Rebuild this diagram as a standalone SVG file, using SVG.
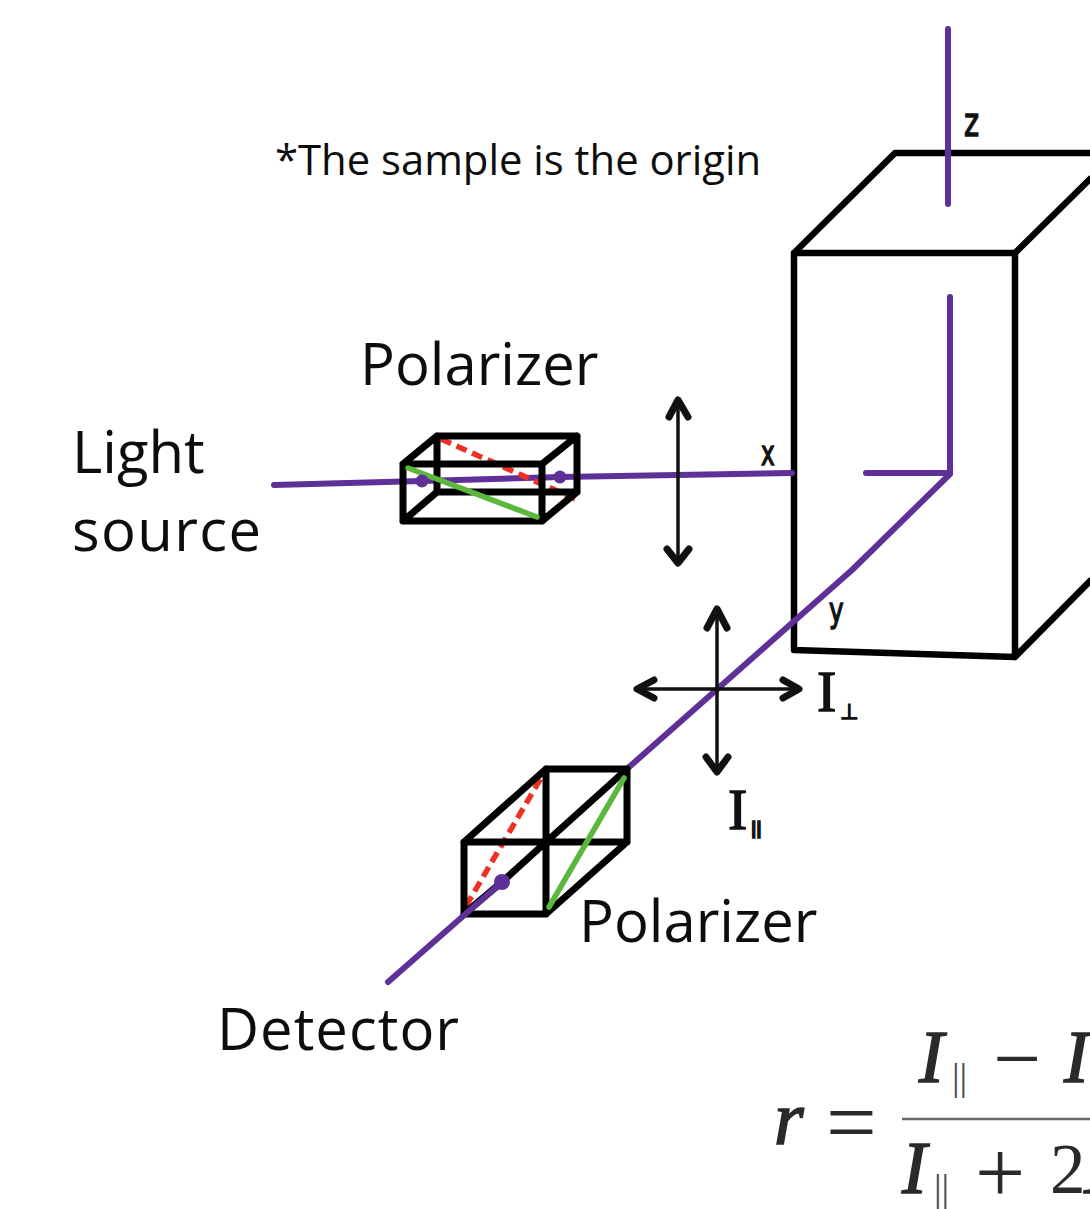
<svg xmlns="http://www.w3.org/2000/svg" width="1090" height="1209" viewBox="0 0 1090 1209">
<style>
.lbl{font-family:"Open Sans","Noto Sans",sans-serif;fill:#0d0d0d}
.big{font-size:58px}
.hand{font-family:"DejaVu Sans",sans-serif;fill:#111;stroke:#111;stroke-width:1.400}
.handi{font-family:"Liberation Serif",serif;fill:#111;stroke:#111;stroke-width:1.400}
.eq{font-family:"Liberation Serif",serif;fill:#262626}
.bi{font-style:italic;font-size:74px;stroke:#262626;stroke-width:1.600}
.sub{font-size:38px;fill:#444}
.k{fill:none;stroke:#000;stroke-width:6.500;stroke-linecap:round;stroke-linejoin:round}
.b{fill:none;stroke:#000;stroke-width:7;stroke-linecap:round;stroke-linejoin:round}
.thin{fill:none;stroke:#111;stroke-width:3.500}
.hd{fill:none;stroke:#111;stroke-width:7;stroke-linecap:round;stroke-linejoin:round}
.p{fill:none;stroke:#5f3198;stroke-width:6;stroke-linecap:round;stroke-linejoin:round}
.g{fill:none;stroke:#5cb83c;stroke-width:5.500;stroke-linecap:round}
.r{fill:none;stroke:#ee3124;stroke-width:5.500;stroke-dasharray:11 6}
.dot{fill:#5f3198}
</style>
<g id="sample-box">
<path class="k" d="M794 253L895 153H1090M794 253H1015L1090 179M794 253V650L1015 657V253M1015 657L1090 581"/>
</g>
<g id="connectors">
<path class="p" d="M274 485L422 481L560 477L792 473"/>
<path class="p" d="M866 473H950V297"/>
<path class="p" d="M948 29V204"/>
<path class="p" d="M950 474L852 570L628 768"/>
<path class="thin" d="M678 402V562"/>
<path class="hd" d="M669 417L678 400L688 417M667 549L678 563L689 549"/>
<path class="thin" d="M717 610V772M637 689H798"/>
<path class="hd" d="M707 628L717 609L727 628M706 757L717 772L728 757M654 680L637 689L654 698M783 680L799 689L783 698"/>
</g>
<g id="polarizer-1">
<path class="r" d="M441 439L575 499"/>
<path class="b" d="M403 464H542V521H403ZM437 436H577V492H437ZM403 464L437 436M542 464L577 436M403 521L437 492M542 521L577 492"/>
<path class="g" d="M408 468L537 517"/>
<circle class="dot" cx="422" cy="481" r="6.500"/>
<circle class="dot" cx="560" cy="477" r="6.500"/>
</g>
<g id="polarizer-2">
<path class="r" d="M466 906L541 778"/>
<path class="b" d="M464 842H546V914H464ZM546 769H627V842H546ZM464 842L546 769M546 842L627 769M464 914L502 882L546 842M546 914L627 842"/>
<path class="g" d="M549 907L624 778"/>
<path class="p" d="M388 982L502 882"/>
<circle class="dot" cx="502" cy="882" r="8"/>
</g>
<g id="labels">
<text class="lbl" x="275" y="175" font-size="41.800">*The sample is the origin</text>
<text class="lbl big" x="360" y="385">Polarizer</text>
<text class="lbl big" x="72" y="473">Light</text>
<text class="lbl big" x="72" y="551" textLength="189">source</text>
<text class="lbl big" x="579" y="942">Polarizer</text>
<text class="lbl big" x="217" y="1050" textLength="242">Detector</text>
<text class="hand" transform="translate(964 136) scale(.72 1)" font-size="40">z</text>
<text class="hand" transform="translate(761 465) scale(.7 1)" font-size="33">x</text>
<text class="hand" transform="translate(829 622) scale(.75 1)" font-size="33">y</text>
<text class="handi" x="817" y="711" font-size="58">I</text>
<text class="hand" x="840" y="719" font-size="21">⊥</text>
<text class="handi" x="728" y="829" font-size="58">I</text>
<text class="hand" x="751" y="838" font-size="24" style="font-family:'Liberation Sans',sans-serif">ll</text>
</g>
<g id="formula" opacity=".98">
<text class="eq bi" x="774" y="1144" style="font-size:76px">r</text>
<text class="eq" x="826" y="1153" font-size="90">=</text>
<text class="eq bi" x="919" y="1082">I</text>
<text class="eq sub" x="952" y="1090">||</text>
<text class="eq" x="993" y="1087" font-size="85">−</text>
<text class="eq bi" x="1064" y="1082">I</text>
<path d="M902 1119H1090" stroke="#666" stroke-width="2.500"/>
<text class="eq bi" x="902" y="1193">I</text>
<text class="eq sub" x="934" y="1201">||</text>
<text class="eq" x="975" y="1202" font-size="89">+</text>
<text class="eq" x="1050" y="1193" font-size="71">2</text>
<text class="eq bi" x="1084" y="1193">I</text>
</g>
</svg>
